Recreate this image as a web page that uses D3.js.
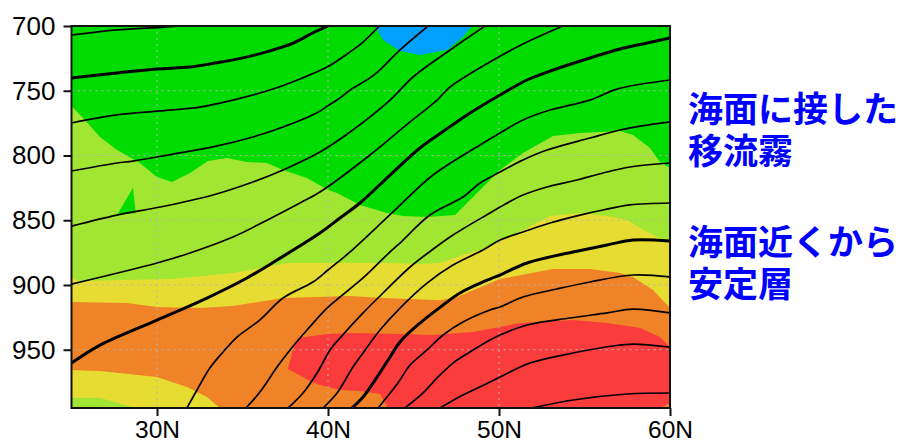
<!DOCTYPE html>
<html><head><meta charset="utf-8">
<script src="https://cdn.jsdelivr.net/npm/d3@7"></script>
<style>html,body{margin:0;padding:0;background:#fff}svg{display:block}</style>
</head><body><svg id="c" width="905" height="441"></svg>
<script>
// Axis data
const latDomain = [25, 60];
const presDomain = [700, 995];
const latTicks = [30, 40, 50, 60];
const latTickLabels = ["30N", "40N", "50N", "60N"];
const presTicks = [700, 750, 800, 850, 900, 950];
const gridLats = [30, 40, 50];
const gridPres = [750, 800, 850, 900, 950];
const notes = [["海面に接した", 0], ["移流霧", 1], ["海面近くから", 2], ["安定層", 3]];

// Shaded bands: [latitude, pressure]
const blueBand = [[42.75,700],[43.22,710.8],[44.21,719.3],[45.38,722.4],[46.96,718.5],[47.89,708.5],[48.42,700]];
const lightGreenTop = [[25,761.8],[25.67,771],[26.67,785.7],[27.66,795.8],[29,805.8],[30,816.6],[30.88,820.5],[31.93,813.5],[32.98,804.3],[34.09,801.9],[35.26,805],[36.43,805.8],[37.37,811.2],[38.77,817.4],[40,826.7],[40.53,829],[41.87,838.2],[43.45,844.4],[44.39,846.7],[45.79,847.5],[47.43,846],[48.13,836.7],[48.89,826.7],[50.06,811.2],[51.4,798.1],[53.16,785],[54.74,782.6],[57.08,781.1],[57.84,784.2],[58.83,794.2],[59.41,805],[60,809.7],[60,995],[25,995]];
const greenSliver = [[27.66,846],[28.6,825],[28.75,844.4]];
const yellowTop = [[25,894.6],[25.5,897],[28.6,896],[30.94,895.4],[34.44,890.8],[37.6,883],[39.36,883],[43.45,883],[45.38,883.8],[46.55,883],[47.89,876.9],[48.89,873],[50.06,865.3],[51.4,857.5],[52.98,846.7],[54.74,844.4],[56.32,846.7],[57.49,849.8],[58.66,859.1],[59.59,865.3],[60,866.8],[60,995],[25,995]];
const orangeTop = [[25,913.2],[28.25,913.9],[30,917],[32.51,917.8],[34.44,916.2],[37.37,910.1],[41.29,908.5],[43.22,910.1],[46.55,911.7],[47.55,909.3],[50.06,895.4],[53.16,887.7],[55.32,887.7],[57.08,890.8],[57.84,893.8],[59,903.9],[60,917.8],[60,995],[25,995]];
const lowYellow = [[25,965.7],[26.67,966.4],[30,971.1],[31.75,978.8],[32.92,986.5],[33.68,995],[25,995]];
const lowGreen = [[25,987.3],[26.67,987.3],[28.6,994.5],[29,995],[25,995]];
const redCore = [[37.66,964.9],[37.95,950.2],[38.25,941],[39.94,937.9],[41.29,937.1],[44.39,937.9],[46.14,938.6],[48.48,936.3],[51.23,929.4],[54.33,927.1],[56.32,929.4],[58.25,933.2],[59.41,940.2],[60,948],[60,991.2],[59.41,995],[43.5,995],[43.04,984.2],[41.87,981.9],[40.7,981.1],[39.53,977.2],[39.06,974.9]];

// Contours: [latitude, pressure]
const contour01 = [[25,707],[27.66,703],[30.18,701],[31.3,700]];
const contour02 = [[25,740.2],[27.66,736.3],[30,733.2],[31.93,731.7],[33.4,728.6],[34.9,725],[36.4,720],[38,713],[39.1,705.4],[40,700]];
const contour03 = [[25,774.9],[27.66,768.7],[30.18,765.6],[32.5,762.6],[34.44,757.2],[36.78,748.7],[38.36,740.9],[39.94,731.7],[41.29,720],[42.05,712.4],[43,700]];
const contour04 = [[25,812],[27.66,805.8],[28.6,804.3],[30.94,798.9],[33.27,793.4],[35.61,785.7],[37.37,778],[39.36,767],[40,761.5],[40.7,755.6],[41.29,749.5],[42.7,737.8],[44.21,718.5],[45.85,700]];
const contour05 = [[25,854.5],[27.66,846],[30.18,839.8],[33.27,830.5],[35.61,820.5],[37.37,811.2],[39.53,797.3],[41.29,781.9],[43.63,757.2],[44.97,739.4],[47.14,718.5],[49.18,700]];
const contour06 = [[25,899.3],[30,883],[31.93,875.3],[34.44,863],[36.43,850],[38.36,836.7],[39.53,828.2],[42.46,799.6],[44.62,776],[46.38,757.2],[47.14,747.1],[49.88,724.7],[51.64,712.4],[53.74,700]];
const contour07 = [[25,960.3],[26.67,946.4],[30,927.1],[32.92,910.1],[35.26,894.6],[37.02,880.7],[39.53,859.9],[40.7,848.3],[41.87,836.7],[43.63,815.1],[45.38,794.2],[46.61,782.6],[48.13,768.7],[50.06,753.3],[51.64,741.7],[53.16,734],[55.32,724.7],[57.08,717.8],[58.66,713.1],[60,709.3]];
const contour08 = [[31.75,995],[32.34,981.1],[33.1,964],[33.86,951.8],[34.68,940.2],[36.02,927],[37.37,910.1],[39.12,897.7],[40,888.4],[40.7,881],[41.29,874.5],[43.74,844.4],[46.14,815.1],[48.89,791.9],[50.06,782.6],[51.4,772.6],[52.98,764.9],[55.32,757.2],[56.9,748.7],[60,741.7]];
const contour09 = [[35.2,995],[36.02,982.7],[37.02,963.4],[37.78,950.2],[38.77,934.8],[39.94,917.8],[40.7,909.3],[42.05,894.6],[43.74,873],[44.21,867.6],[45.96,846],[47.89,832.1],[48.89,821.3],[50.06,812.8],[51.4,803.5],[52.81,795.8],[55.32,786.5],[57.08,780.3],[58.66,776.5],[60,774.1]];
const contour10 = [[37.66,995],[38.54,983.4],[39.36,968],[40.12,950.2],[40.7,941],[42.05,921.6],[43.22,906.2],[44.8,886.1],[46.08,873],[47.31,861.4],[49.47,844.4],[50.06,839.8],[51.4,830.5],[52.81,824.3],[54.56,818.9],[56.08,813.5],[57.66,808.9],[60,805.8]];
const contour11 = [[39.71,995],[40.53,983.4],[41.46,963.4],[42.05,952.5],[43.04,934.8],[44.21,917.8],[45.79,898.5],[47.31,884.6],[49.06,873],[50.06,865.3],[51.4,859.1],[52.98,852.1],[54.74,846],[56.08,842.1],[57.66,838.2],[60,836.7]];
const contour12 = [[41.4,995],[42.05,986.5],[42.87,971.1],[43.63,955.6],[44.21,944],[45.38,929.4],[46.73,915.5],[47.72,906.2],[49.47,895.4],[50.06,892.3],[51.64,883],[54.33,874.5],[56.32,869.1],[57.84,865.3],[60,866]];
const contour13 = [[42.93,995],[43.45,986.5],[44.09,975.7],[44.8,961.8],[45.79,950.2],[46.73,938.6],[47.89,928.6],[49.47,919.3],[50.06,917],[51.4,909.3],[53.39,903.1],[55.32,897.7],[57.84,892.3],[60,893.8]];
const contour14 = [[44.5,995],[45.56,983.4],[46.38,971.8],[47.31,960.3],[48.3,951.8],[49.47,942.5],[50.06,938.6],[51.64,930.9],[54.15,925.5],[56.32,921.6],[57.84,918.6],[60,921.6]];
const contour15 = [[46.55,995],[47.89,985],[49.47,975],[50.06,971.1],[51.81,960.3],[54.33,952.5],[56.67,947.1],[57.84,945.6],[60,948]];
const contour16 = [[51.93,995],[54.33,988.8],[57.49,984.2],[60,983.4]];
const thinContours = [contour01, contour03, contour04, contour05, contour06, contour08, contour09, contour10, contour11, contour13, contour14, contour15, contour16];
const thickContours = [contour02, contour07, contour12];

const x = d3.scaleLinear().domain(latDomain).range([71.5, 670]);
const y = d3.scaleLinear().domain(presDomain).range([26, 408]);
const svg = d3.select("#c");

svg.append("clipPath").attr("id", "plot").append("rect")
  .attr("x", x(25)).attr("y", y(700)).attr("width", x(60) - x(25)).attr("height", y(995) - y(700));

const g = svg.append("g").attr("clip-path", "url(#plot)");
g.append("rect").attr("x", x(25)).attr("y", y(700)).attr("width", x(60) - x(25)).attr("height", y(995) - y(700)).attr("fill", "#00dc00");

const area = d3.line().x(d => x(d[0])).y(d => y(d[1]));
const bands = [
  [blueBand, "#00a0ff"], [lightGreenTop, "#a0e632"], [greenSliver, "#00dc00"], [yellowTop, "#e6dc32"],
  [orangeTop, "#f08228"], [lowYellow, "#e6dc32"], [lowGreen, "#a0e632"], [redCore, "#fa3c3c"]
];
g.selectAll("path.band").data(bands).join("path").attr("class", "band")
  .attr("d", d => area(d[0]) + "Z").attr("fill", d => d[1]);

const gridStyle = s => s.attr("stroke", "#b4b4b4").attr("stroke-width", 1).attr("stroke-dasharray", "2 4");
g.selectAll("line.gy").data(gridPres).join("line").attr("class", "gy")
  .attr("x1", x(25)).attr("x2", x(60)).attr("y1", d => y(d)).attr("y2", d => y(d)).call(gridStyle);
g.selectAll("line.gx").data(gridLats).join("line").attr("class", "gx")
  .attr("y1", y(700)).attr("y2", y(995)).attr("x1", d => x(d)).attr("x2", d => x(d)).call(gridStyle);

const curve = d3.line().x(d => x(d[0])).y(d => y(d[1])).curve(d3.curveCatmullRom.alpha(0.5));
g.selectAll("path.thin").data(thinContours).join("path").attr("class", "thin")
  .attr("d", curve).attr("fill", "none").attr("stroke", "#000").attr("stroke-width", 1.7);
g.selectAll("path.thick").data(thickContours).join("path").attr("class", "thick")
  .attr("d", curve).attr("fill", "none").attr("stroke", "#000").attr("stroke-width", 3);

svg.append("rect").attr("x", x(25)).attr("y", y(700)).attr("width", x(60) - x(25)).attr("height", y(995) - y(700))
  .attr("fill", "none").attr("stroke", "#111").attr("stroke-width", 2);

const axisL = d3.axisLeft(y).tickValues(presTicks).tickSize(8).tickPadding(8);
const gl = svg.append("g").attr("transform", `translate(${x(25)},0)`).call(axisL);
gl.select(".domain").remove();
gl.selectAll("line").attr("stroke", "#111").attr("stroke-width", 2);
gl.selectAll("text").attr("font-family", "Liberation Sans").attr("font-size", 26).attr("fill", "#000");

const axisB = d3.axisBottom(x).tickValues(latTicks).tickSize(8).tickPadding(5)
  .tickFormat((d, i) => latTickLabels[i]);
const gb = svg.append("g").attr("transform", `translate(0,${y(995)})`).call(axisB);
gb.select(".domain").remove();
gb.selectAll("line").attr("stroke", "#111").attr("stroke-width", 2);
gb.selectAll("text").attr("font-family", "Liberation Sans").attr("font-size", 24.5).attr("fill", "#000");

const noteBaselines = d3.scaleOrdinal().domain([0, 1, 2, 3]).range([122, 164, 255, 297]);
svg.selectAll("text.note").data(notes).join("text").attr("class", "note")
  .attr("x", 688).attr("y", d => noteBaselines(d[1]))
  .attr("font-family", "Noto Sans CJK JP").attr("font-weight", 700).attr("font-size", 35)
  .attr("fill", "#0000ff").text(d => d[0]);
</script></body></html>
